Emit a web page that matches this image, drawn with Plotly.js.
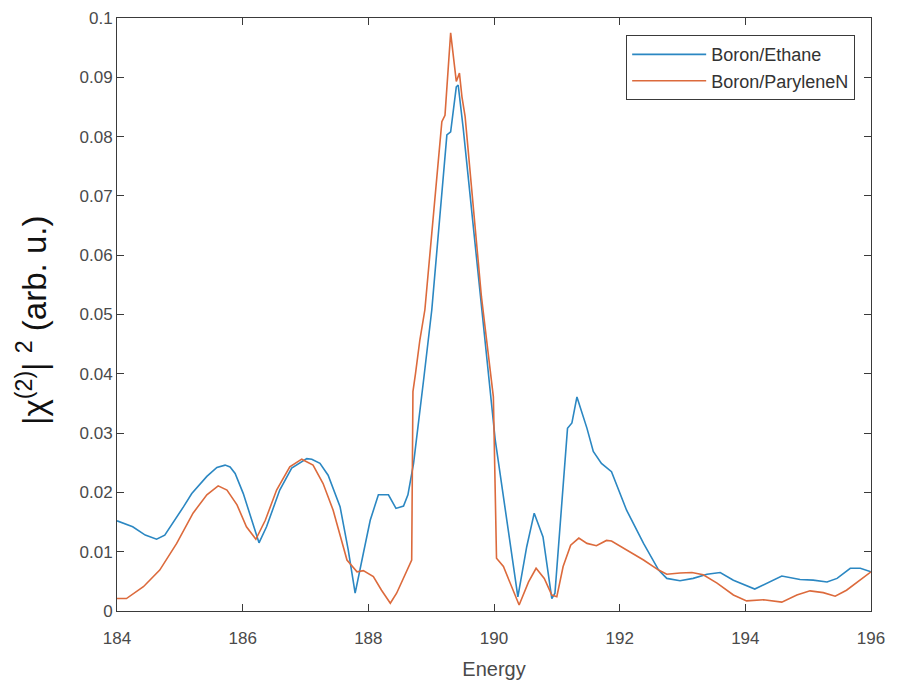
<!DOCTYPE html>
<html>
<head>
<meta charset="utf-8">
<script src="https://cdn.plot.ly/plotly-3.0.1.min.js"></script>
<style>html,body{margin:0;padding:0;background:#fff;}#chart{width:898px;height:688px;}</style>
</head>
<body>
<div id="chart"></div>
<script>
const ethaneX = [184.0,184.25,184.45,184.63,184.76,184.9,185.06,185.19,185.43,185.59,185.72,185.80,185.88,186.01,186.14,186.26,186.38,186.59,186.78,187.02,187.10,187.23,187.36,187.55,187.68,187.79,187.92,188.03,188.16,188.32,188.44,188.56,188.63,188.72,188.88,189.01,189.25,189.31,189.40,189.43,189.51,189.80,190.02,190.38,190.52,190.64,190.78,190.92,190.97,191.17,191.24,191.32,191.42,191.48,191.58,191.71,191.87,192.11,192.38,192.62,192.75,192.96,193.17,193.39,193.60,193.81,194.15,194.34,194.58,194.87,195.08,195.30,195.46,195.67,195.83,196.0];
const ethaneY = [0.0152,0.0142,0.0128,0.0121,0.0128,0.0150,0.0176,0.0198,0.0227,0.0242,0.0246,0.0243,0.0232,0.0198,0.0153,0.0115,0.0142,0.0204,0.0241,0.0257,0.0256,0.0249,0.0229,0.0176,0.0103,0.0030,0.0097,0.0153,0.0196,0.0196,0.0173,0.0177,0.0196,0.0249,0.0390,0.0508,0.0803,0.0808,0.0884,0.0887,0.0814,0.0508,0.0288,0.0024,0.0108,0.0165,0.0125,0.0021,0.0030,0.0308,0.0317,0.0361,0.0328,0.0308,0.0269,0.0249,0.0235,0.0170,0.0114,0.0069,0.0055,0.0051,0.0055,0.0062,0.0065,0.0052,0.0037,0.0047,0.0059,0.0053,0.0052,0.0049,0.0055,0.0072,0.0072,0.0066];
const paryleneX = [184.0,184.15,184.42,184.68,184.95,185.21,185.43,185.61,185.75,185.91,186.06,186.21,186.36,186.54,186.75,186.94,187.12,187.28,187.44,187.66,187.82,187.92,188.08,188.21,188.35,188.45,188.69,188.71,188.75,188.82,188.90,189.17,189.22,189.31,189.40,189.45,189.49,189.54,189.80,189.99,190.04,190.15,190.40,190.55,190.67,190.80,190.92,191.00,191.10,191.22,191.35,191.48,191.63,191.79,191.87,192.11,192.38,192.62,192.75,192.96,193.15,193.33,193.55,193.81,194.02,194.29,194.58,194.82,195.03,195.24,195.43,195.61,195.83,196.0];
const paryleneY = [0.0021,0.0021,0.0041,0.0069,0.0114,0.0165,0.0196,0.0211,0.0204,0.0179,0.0142,0.0121,0.0153,0.0204,0.0243,0.0256,0.0246,0.0215,0.0170,0.0086,0.0066,0.0068,0.0058,0.0035,0.0013,0.0030,0.0086,0.0370,0.0400,0.0457,0.0508,0.0825,0.0836,0.0975,0.0893,0.0907,0.0867,0.0834,0.0530,0.0361,0.0089,0.0075,0.0010,0.0049,0.0072,0.0055,0.0027,0.0024,0.0075,0.0111,0.0123,0.0114,0.0110,0.0119,0.0118,0.0103,0.0086,0.0069,0.0062,0.0064,0.0065,0.0061,0.0047,0.0027,0.0017,0.0019,0.0015,0.0027,0.0034,0.0031,0.0025,0.0035,0.0052,0.0066];
const seriesNames = ['Boron/Ethane','Boron/ParyleneN'];
const xTicks = [184,186,188,190,192,194,196];
const yTicks = [0,0.01,0.02,0.03,0.04,0.05,0.06,0.07,0.08,0.09,0.1];
const yTickText = ['0','0.01','0.02','0.03','0.04','0.05','0.06','0.07','0.08','0.09','0.1'];
const yTitleText = '|χ<sup>(2)</sup>| <sup>2</sup> (arb. u.)';

const traces = [
  {x: ethaneX, y: ethaneY, name: seriesNames[0], type: 'scatter', mode: 'lines',
   line: {color: '#2b87c2', width: 1.6}},
  {x: paryleneX, y: paryleneY, name: seriesNames[1], type: 'scatter', mode: 'lines',
   line: {color: '#dc6a3c', width: 1.6}}
];
const axisCommon = {
  showgrid: false, zeroline: false, showline: true, linecolor: '#3a3a3a', linewidth: 1,
  mirror: 'ticks', ticks: 'inside', ticklen: 7, tickcolor: '#3a3a3a', tickwidth: 1,
  tickfont: {family: 'Liberation Sans, Arial, sans-serif', size: 17, color: '#4a4a4a'}
};
const layout = {
  width: 898, height: 688,
  margin: {l: 117, r: 27, t: 18, b: 77},
  paper_bgcolor: '#fff', plot_bgcolor: '#fff',
  showlegend: true,
  legend: {x: 0.979, y: 0.971, xanchor: 'right', yanchor: 'top',
    bgcolor: '#fff', bordercolor: '#3a3a3a', borderwidth: 1,
    font: {family: 'Liberation Sans, Arial, sans-serif', size: 18, color: '#333'},
    itemwidth: 74, tracegroupgap: 0},
  xaxis: Object.assign({}, axisCommon, {
    range: [184, 196], tickvals: xTicks, ticktext: xTicks.map(String),
    ticklabelstandoff: 12,
    title: {text: 'Energy', font: {family: 'Liberation Sans, Arial, sans-serif', size: 20, color: '#4a4a4a'}, standoff: 14}
  }),
  yaxis: Object.assign({}, axisCommon, {
    range: [0, 0.1], tickvals: yTicks, ticktext: yTickText
  }),
  annotations: [{
    text: yTitleText, xref: 'paper', yref: 'paper', x: -0.1127, y: 0.489,
    xanchor: 'center', yanchor: 'middle', textangle: -90, showarrow: false,
    font: {family: 'Liberation Sans, Arial, sans-serif', size: 33, color: '#111'}
  }]
};
Plotly.newPlot('chart', traces, layout, {displayModeBar: false, staticPlot: true});
</script>
</body>
</html>
